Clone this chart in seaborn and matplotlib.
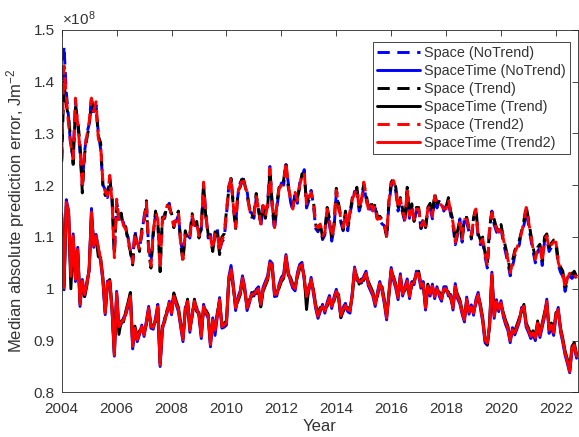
import numpy as np
import pandas as pd
import matplotlib
matplotlib.use("Agg")
import matplotlib.pyplot as plt
import seaborn as sns

# ---------------- data (units of 1e8 J m^-2), monthly from Jan 2004 ----------------
start_year = 2004

space_notrend = [
    1.250, 1.468, 1.380, 1.330, 1.270, 1.255, 1.360, 1.320, 1.262, 1.200, 1.265, 1.300,
    1.318, 1.372, 1.335, 1.355, 1.300, 1.270, 1.200, 1.192, 1.176, 1.214, 1.172, 1.070,
    1.168, 1.140, 1.135, 1.128, 1.110, 1.100, 1.070, 1.055, 1.112, 1.085, 1.080, 1.104,
    1.140, 1.162, 1.080, 1.050, 1.112, 1.142, 1.128, 1.045, 1.130, 1.145, 1.155, 1.165,
    1.136, 1.126, 1.130, 1.142, 1.094, 1.062, 1.103, 1.105, 1.098, 1.136, 1.123, 1.120,
    1.107, 1.113, 1.200, 1.146, 1.098, 1.105, 1.080, 1.100, 1.115, 1.075, 1.090, 1.097,
    1.142, 1.198, 1.210, 1.166, 1.123, 1.180, 1.205, 1.212, 1.195, 1.190, 1.150, 1.146,
    1.136, 1.175, 1.160, 1.120, 1.156, 1.145, 1.166, 1.236, 1.155, 1.113, 1.156, 1.188,
    1.204, 1.200, 1.240, 1.205, 1.168, 1.150, 1.190, 1.165, 1.204, 1.214, 1.230, 1.156,
    1.170, 1.190, 1.162, 1.116, 1.110, 1.120, 1.095, 1.104, 1.150, 1.125, 1.092, 1.115,
    1.185, 1.156, 1.128, 1.112, 1.142, 1.112, 1.145, 1.168, 1.188, 1.188, 1.150, 1.165,
    1.200, 1.175, 1.150, 1.162, 1.145, 1.156, 1.130, 1.132, 1.125, 1.122, 1.098, 1.162,
    1.198, 1.204, 1.188, 1.150, 1.168, 1.146, 1.128, 1.188, 1.136, 1.156, 1.130, 1.150,
    1.150, 1.116, 1.126, 1.116, 1.150, 1.156, 1.135, 1.176, 1.156, 1.172, 1.168, 1.150,
    1.160, 1.168, 1.142, 1.122, 1.085, 1.104, 1.135, 1.090, 1.140, 1.128, 1.110, 1.096,
    1.130, 1.148, 1.098, 1.085, 1.090, 1.062, 1.040, 1.110, 1.150, 1.124, 1.110, 1.104,
    1.116, 1.090, 1.070, 1.050, 1.025, 1.042, 1.064, 1.074, 1.085, 1.115, 1.122, 1.150,
    1.124, 1.096, 1.072, 1.050, 1.072, 1.080, 1.045, 1.092, 1.098, 1.072, 1.080, 1.084,
    1.084, 1.046, 1.032, 1.024, 0.995, 1.015, 1.025, 1.020, 1.026, 1.016,
]

spacetime_notrend = [
    1.145, 0.998, 1.172, 1.150, 1.020, 1.106, 1.014, 1.080, 0.966, 1.018, 0.985, 1.014,
    1.034, 1.155, 1.080, 1.105, 1.078, 1.052, 1.014, 0.950, 1.015, 1.012, 0.956, 0.870,
    0.995, 0.924, 0.932, 0.944, 0.950, 0.966, 0.990, 0.884, 0.920, 0.898, 0.912, 0.930,
    0.908, 0.938, 0.966, 0.924, 0.922, 0.944, 0.970, 0.850, 0.920, 0.944, 0.952, 0.976,
    0.950, 0.990, 0.970, 0.956, 0.926, 0.898, 0.964, 0.972, 0.916, 0.954, 0.972, 0.964,
    0.946, 0.904, 0.970, 0.952, 0.944, 0.888, 0.944, 0.910, 0.946, 0.983, 0.924, 0.926,
    0.930, 1.022, 1.045, 1.010, 0.958, 0.984, 0.996, 1.025, 1.003, 0.958, 0.972, 0.993,
    0.986, 0.999, 1.004, 0.966, 1.003, 1.014, 1.025, 1.054, 1.049, 0.985, 0.986, 1.009,
    1.022, 1.028, 1.066, 1.034, 1.014, 1.001, 0.996, 1.031, 1.047, 1.051, 1.016, 0.981,
    0.996, 1.022, 0.991, 0.962, 0.943, 0.956, 0.970, 0.953, 0.974, 0.987, 0.962, 0.984,
    0.999, 0.981, 0.944, 0.964, 0.972, 0.956, 0.953, 0.994, 1.042, 1.016, 1.017, 1.011,
    1.024, 1.034, 1.006, 0.996, 0.986, 0.966, 0.994, 1.014, 0.996, 0.971, 0.940, 0.994,
    1.041, 1.016, 1.001, 0.979, 1.029, 0.986, 1.004, 1.019, 0.981, 1.014, 1.008, 1.034,
    1.026, 1.001, 1.014, 0.959, 1.001, 0.986, 1.009, 0.981, 1.004, 0.986, 0.976, 1.004,
    1.004, 0.986, 0.989, 0.959, 1.010, 0.981, 0.971, 0.951, 0.936, 0.984, 0.951, 0.969,
    0.949, 0.979, 0.993, 0.962, 0.936, 0.896, 0.891, 0.934, 1.032, 0.943, 0.979, 0.956,
    0.977, 0.946, 0.931, 0.920, 0.896, 0.925, 0.911, 0.923, 0.936, 0.964, 0.962, 0.926,
    0.916, 0.904, 0.911, 0.900, 0.930, 0.906, 0.926, 0.946, 0.980, 0.914, 0.926, 0.910,
    0.946, 0.964, 0.917, 0.896, 0.872, 0.856, 0.838, 0.881, 0.888, 0.866,
]

space_trend = [
    1.245, 1.400, 1.355, 1.330, 1.285, 1.240, 1.350, 1.325, 1.280, 1.185, 1.260, 1.290,
    1.315, 1.360, 1.345, 1.350, 1.295, 1.282, 1.200, 1.180, 1.185, 1.212, 1.175, 1.065,
    1.170, 1.128, 1.146, 1.118, 1.120, 1.090, 1.072, 1.046, 1.104, 1.095, 1.072, 1.115,
    1.130, 1.170, 1.072, 1.040, 1.104, 1.150, 1.130, 1.033, 1.138, 1.136, 1.164, 1.156,
    1.146, 1.118, 1.140, 1.150, 1.085, 1.052, 1.112, 1.096, 1.106, 1.145, 1.114, 1.130,
    1.098, 1.122, 1.202, 1.137, 1.106, 1.096, 1.072, 1.110, 1.106, 1.066, 1.100, 1.106,
    1.150, 1.190, 1.213, 1.158, 1.114, 1.190, 1.196, 1.220, 1.202, 1.182, 1.158, 1.138,
    1.145, 1.184, 1.150, 1.128, 1.165, 1.136, 1.158, 1.228, 1.164, 1.122, 1.165, 1.196,
    1.196, 1.210, 1.242, 1.196, 1.176, 1.158, 1.182, 1.174, 1.196, 1.222, 1.222, 1.165,
    1.178, 1.183, 1.170, 1.125, 1.114, 1.128, 1.098, 1.112, 1.157, 1.136, 1.095, 1.124,
    1.194, 1.165, 1.138, 1.114, 1.150, 1.122, 1.146, 1.176, 1.180, 1.196, 1.158, 1.174,
    1.203, 1.184, 1.158, 1.170, 1.153, 1.164, 1.138, 1.140, 1.134, 1.130, 1.098, 1.170,
    1.206, 1.212, 1.196, 1.158, 1.176, 1.154, 1.130, 1.196, 1.144, 1.164, 1.130, 1.157,
    1.157, 1.118, 1.134, 1.118, 1.157, 1.165, 1.144, 1.184, 1.165, 1.168, 1.164, 1.158,
    1.158, 1.176, 1.150, 1.132, 1.094, 1.112, 1.132, 1.092, 1.137, 1.138, 1.118, 1.098,
    1.138, 1.157, 1.106, 1.094, 1.100, 1.068, 1.048, 1.118, 1.150, 1.134, 1.118, 1.112,
    1.124, 1.100, 1.080, 1.060, 1.034, 1.054, 1.074, 1.084, 1.094, 1.112, 1.132, 1.160,
    1.134, 1.106, 1.080, 1.060, 1.080, 1.086, 1.054, 1.100, 1.106, 1.080, 1.088, 1.094,
    1.094, 1.055, 1.042, 1.034, 1.004, 1.024, 1.034, 1.028, 1.034, 1.024,
]

spacetime_trend = [
    1.138, 1.005, 1.160, 1.144, 1.000, 1.098, 1.022, 1.070, 0.974, 1.010, 0.985, 1.006,
    1.040, 1.140, 1.088, 1.098, 1.062, 1.060, 1.022, 0.956, 1.008, 1.018, 0.964, 0.876,
    0.988, 0.912, 0.938, 0.936, 0.957, 0.974, 0.993, 0.893, 0.928, 0.906, 0.919, 0.923,
    0.915, 0.931, 0.959, 0.931, 0.929, 0.936, 0.962, 0.857, 0.928, 0.936, 0.959, 0.969,
    0.957, 0.992, 0.977, 0.964, 0.934, 0.906, 0.956, 0.980, 0.924, 0.946, 0.980, 0.956,
    0.954, 0.912, 0.962, 0.959, 0.951, 0.896, 0.936, 0.924, 0.954, 0.975, 0.931, 0.934,
    0.938, 1.014, 1.033, 1.001, 0.967, 0.976, 0.988, 1.017, 0.995, 0.967, 0.979, 0.985,
    0.994, 0.991, 0.996, 0.965, 0.995, 1.006, 1.017, 1.046, 1.041, 0.993, 0.994, 1.001,
    1.014, 1.020, 1.059, 1.026, 1.022, 1.009, 1.004, 1.023, 1.039, 1.043, 1.024, 0.960,
    1.004, 1.014, 0.999, 0.970, 0.951, 0.964, 0.962, 0.961, 0.966, 0.979, 0.970, 0.976,
    0.991, 0.989, 0.945, 0.956, 0.964, 0.964, 0.961, 0.986, 1.035, 1.024, 1.009, 1.019,
    1.016, 1.026, 1.014, 1.004, 0.994, 0.974, 0.986, 1.006, 1.004, 0.979, 0.948, 0.986,
    1.033, 1.024, 1.009, 0.987, 1.021, 0.994, 0.996, 1.011, 0.989, 1.006, 1.016, 1.026,
    1.034, 1.009, 1.006, 0.967, 1.009, 0.994, 1.001, 0.989, 0.996, 0.994, 0.984, 0.996,
    0.996, 0.994, 0.981, 0.967, 1.001, 0.989, 0.979, 0.959, 0.944, 0.976, 0.959, 0.961,
    0.957, 0.971, 0.985, 0.970, 0.944, 0.904, 0.893, 0.926, 1.024, 0.951, 0.971, 0.964,
    0.969, 0.954, 0.939, 0.928, 0.904, 0.917, 0.919, 0.931, 0.944, 0.956, 0.970, 0.934,
    0.924, 0.912, 0.919, 0.909, 0.938, 0.914, 0.934, 0.954, 0.972, 0.924, 0.934, 0.919,
    0.954, 0.956, 0.925, 0.904, 0.880, 0.864, 0.844, 0.889, 0.896, 0.874,
]

space_trend2 = [
    1.260, 1.430, 1.370, 1.316, 1.277, 1.251, 1.368, 1.316, 1.270, 1.193, 1.270, 1.296,
    1.322, 1.368, 1.342, 1.361, 1.290, 1.277, 1.206, 1.187, 1.180, 1.219, 1.167, 1.060,
    1.173, 1.134, 1.141, 1.122, 1.115, 1.095, 1.076, 1.050, 1.108, 1.090, 1.076, 1.110,
    1.134, 1.167, 1.076, 1.044, 1.108, 1.147, 1.134, 1.037, 1.134, 1.140, 1.160, 1.160,
    1.141, 1.121, 1.135, 1.147, 1.089, 1.057, 1.108, 1.100, 1.102, 1.141, 1.118, 1.125,
    1.102, 1.118, 1.206, 1.141, 1.102, 1.100, 1.075, 1.105, 1.110, 1.070, 1.095, 1.102,
    1.147, 1.193, 1.216, 1.161, 1.118, 1.186, 1.199, 1.216, 1.199, 1.186, 1.154, 1.141,
    1.141, 1.180, 1.154, 1.125, 1.161, 1.140, 1.161, 1.232, 1.160, 1.118, 1.161, 1.193,
    1.199, 1.206, 1.245, 1.200, 1.173, 1.154, 1.186, 1.170, 1.199, 1.219, 1.225, 1.161,
    1.175, 1.186, 1.167, 1.121, 1.118, 1.125, 1.102, 1.109, 1.154, 1.132, 1.099, 1.120,
    1.190, 1.161, 1.134, 1.118, 1.147, 1.118, 1.150, 1.173, 1.183, 1.193, 1.154, 1.170,
    1.206, 1.180, 1.154, 1.167, 1.150, 1.161, 1.134, 1.137, 1.130, 1.128, 1.102, 1.167,
    1.203, 1.209, 1.193, 1.154, 1.173, 1.150, 1.134, 1.193, 1.141, 1.161, 1.134, 1.154,
    1.154, 1.121, 1.130, 1.121, 1.154, 1.161, 1.140, 1.180, 1.161, 1.165, 1.161, 1.154,
    1.154, 1.173, 1.147, 1.128, 1.090, 1.109, 1.128, 1.096, 1.134, 1.134, 1.115, 1.102,
    1.134, 1.154, 1.102, 1.090, 1.096, 1.070, 1.044, 1.115, 1.147, 1.130, 1.115, 1.109,
    1.121, 1.096, 1.077, 1.057, 1.031, 1.050, 1.070, 1.080, 1.090, 1.109, 1.128, 1.157,
    1.130, 1.102, 1.077, 1.057, 1.077, 1.083, 1.051, 1.096, 1.102, 1.077, 1.085, 1.090,
    1.090, 1.051, 1.038, 1.031, 1.000, 1.020, 1.030, 1.025, 1.030, 1.020,
]

spacetime_trend2 = [
    1.141, 1.002, 1.167, 1.148, 1.024, 1.102, 1.018, 1.076, 0.970, 1.015, 0.989, 1.010,
    1.037, 1.148, 1.083, 1.102, 1.080, 1.057, 1.018, 0.953, 1.012, 1.015, 0.960, 0.872,
    0.992, 0.927, 0.935, 0.940, 0.953, 0.970, 0.986, 0.889, 0.924, 0.902, 0.915, 0.927,
    0.911, 0.935, 0.963, 0.927, 0.925, 0.940, 0.966, 0.853, 0.924, 0.940, 0.955, 0.973,
    0.953, 0.986, 0.973, 0.960, 0.930, 0.902, 0.960, 0.976, 0.920, 0.950, 0.976, 0.960,
    0.950, 0.908, 0.966, 0.955, 0.947, 0.892, 0.940, 0.920, 0.950, 0.979, 0.927, 0.930,
    0.934, 1.018, 1.037, 1.005, 0.963, 0.980, 0.992, 1.021, 0.999, 0.963, 0.975, 0.989,
    0.990, 0.995, 1.000, 0.970, 0.999, 1.010, 1.021, 1.050, 1.045, 0.989, 0.990, 1.005,
    1.018, 1.024, 1.063, 1.030, 1.018, 1.005, 1.000, 1.027, 1.043, 1.047, 1.020, 0.985,
    1.000, 1.018, 0.995, 0.966, 0.947, 0.960, 0.966, 0.957, 0.970, 0.983, 0.966, 0.980,
    0.995, 0.985, 0.948, 0.960, 0.968, 0.960, 0.957, 0.990, 1.039, 1.020, 1.013, 1.015,
    1.020, 1.030, 1.010, 1.000, 0.990, 0.970, 0.990, 1.010, 1.000, 0.975, 0.944, 0.990,
    1.037, 1.020, 1.005, 0.983, 1.025, 0.990, 1.000, 1.015, 0.985, 1.010, 1.012, 1.030,
    1.030, 1.005, 1.010, 0.963, 1.005, 0.990, 1.005, 0.985, 1.000, 0.990, 0.980, 1.000,
    1.000, 0.990, 0.985, 0.963, 1.005, 0.985, 0.975, 0.955, 0.940, 0.980, 0.955, 0.965,
    0.953, 0.975, 0.989, 0.966, 0.940, 0.900, 0.895, 0.930, 1.028, 0.947, 0.975, 0.960,
    0.973, 0.950, 0.935, 0.924, 0.900, 0.921, 0.915, 0.927, 0.940, 0.960, 0.966, 0.930,
    0.920, 0.908, 0.915, 0.905, 0.934, 0.910, 0.930, 0.950, 0.976, 0.920, 0.930, 0.915,
    0.950, 0.960, 0.921, 0.900, 0.876, 0.860, 0.840, 0.885, 0.892, 0.870,
]

series_labels = ["Space (NoTrend)", "SpaceTime (NoTrend)", "Space (Trend)",
                 "SpaceTime (Trend)", "Space (Trend2)", "SpaceTime (Trend2)"]
x_ticks = [2004, 2006, 2008, 2010, 2012, 2014, 2016, 2018, 2020, 2022]
y_ticks = [0.8, 0.9, 1.0, 1.1, 1.2, 1.3, 1.4, 1.5]
y_tick_labels = ["0.8", "0.9", "1", "1.1", "1.2", "1.3", "1.4", "1.5"]

# ---------------- plotting ----------------
sns.set_theme(style="white")
plt.rcParams['font.family'] = ['Liberation Sans', 'DejaVu Sans']
plt.rcParams['mathtext.fontset'] = 'custom'
plt.rcParams['mathtext.rm'] = 'Liberation Sans'
plt.rcParams['mathtext.it'] = 'Liberation Sans:italic'

axc = '#262626'
txc = '#333333'
fig = plt.figure(figsize=(5.79, 4.37), dpi=100)
ax = fig.add_axes([0.1066, 0.102, 0.892, 0.830])

all_series = [space_notrend, spacetime_notrend, space_trend,
              spacetime_trend, space_trend2, spacetime_trend2]
colors = ['#0000ff', '#0000ff', '#000000', '#000000', '#ff0000', '#ff0000']
dashed = [True, False, True, False, True, False]

n = len(spacetime_trend2)
years = start_year + np.arange(n) / 12.0

for lab, vals, col, d in zip(series_labels, all_series, colors, dashed):
    df = pd.DataFrame({"Year": years, "value": vals})
    sns.lineplot(data=df, x="Year", y="value", ax=ax, color=col,
                 linewidth=2.1, label=lab, estimator=None)
    if d:
        ax.lines[-1].set_dashes((4.2, 2.6))

ax.set_xlim(2004, 2022.81)
ax.set_ylim(0.8, 1.5)
ax.set_xticks(x_ticks)
ax.set_yticks(y_ticks)
ax.set_yticklabels(y_tick_labels)
ax.tick_params(direction='in', top=True, right=True, length=4.5, width=0.6,
               colors=axc, labelcolor=txc, labelsize=11)
ax.tick_params(axis='x', pad=7)
ax.tick_params(axis='y', pad=5)
for sp in ax.spines.values():
    sp.set_color(axc)
    sp.set_linewidth(0.6)

ax.set_xlabel("Year", fontsize=12, color=txc, labelpad=2)
ax.set_ylabel(r"Median absolute prediction error, Jm$^{\mathregular{-2}}$",
              fontsize=12, color=txc, labelpad=5)
ax.text(0.0, 1.004, r"$\times\mathregular{10^{8}}$", transform=ax.transAxes,
        fontsize=11, color=txc, ha='left', va='bottom')

leg = ax.legend(loc='upper right', bbox_to_anchor=(0.984, 0.966), borderaxespad=0,
                fancybox=False, framealpha=1, edgecolor=axc, fontsize=10.4,
                handlelength=3.0, handletextpad=0.25, labelspacing=0.27,
                borderpad=0.3)
leg.get_frame().set_linewidth(0.6)
for t in leg.get_texts():
    t.set_color(txc)

fig.savefig("out.png", dpi=100)
